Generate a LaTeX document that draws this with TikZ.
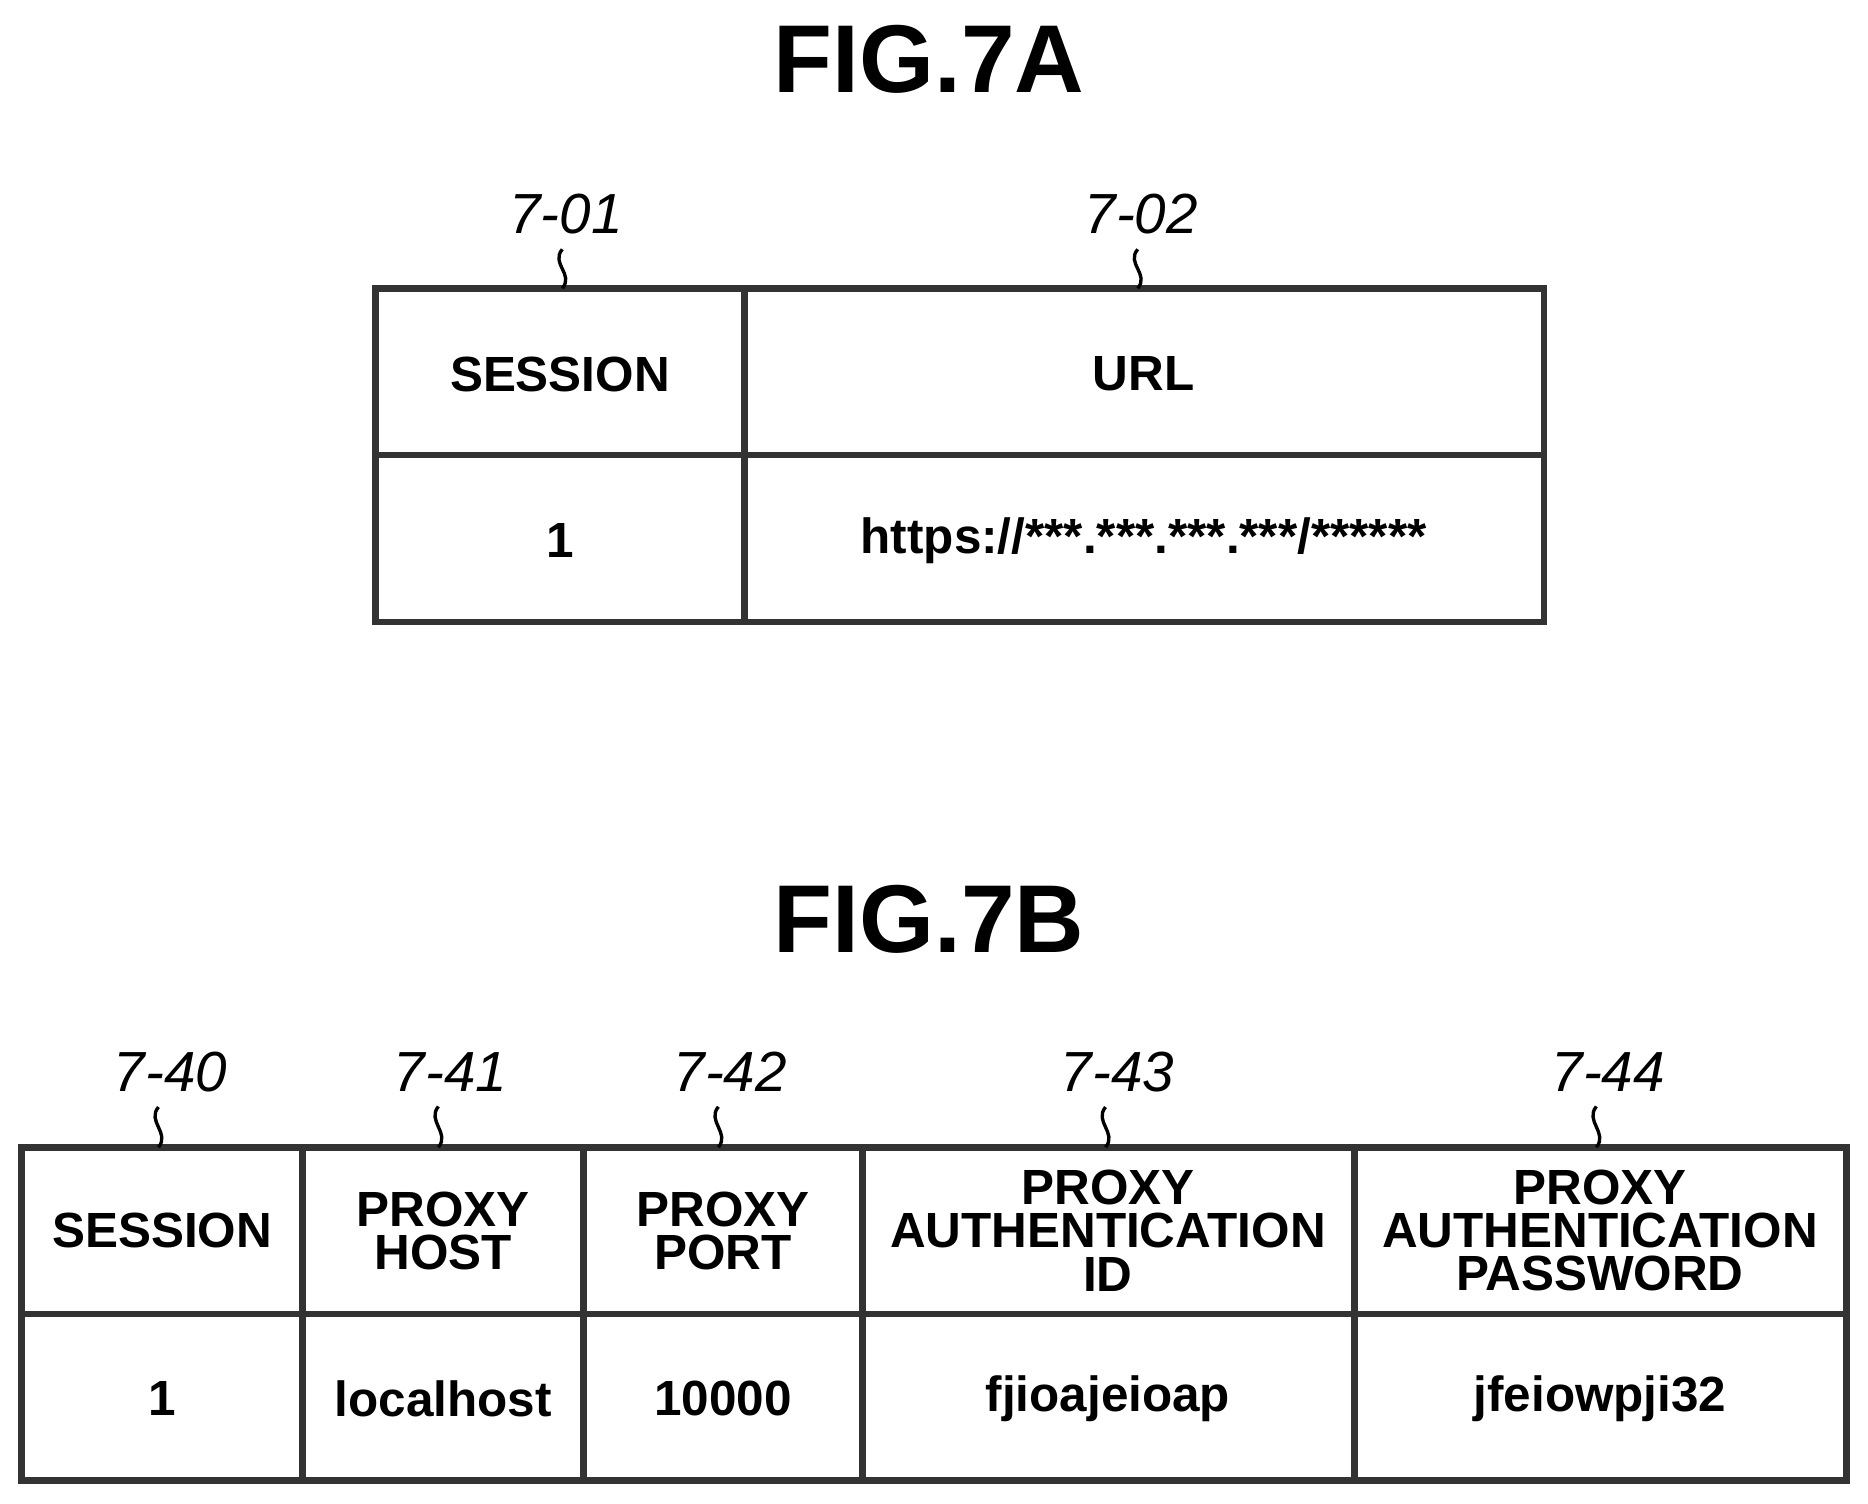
\documentclass[tikz,border=0pt]{standalone}
\usepackage{fontspec}
\setmainfont{Liberation Sans}
\usetikzlibrary{positioning}
\tikzset{
  cell/.style={font=\fontsize{11.8}{10.3}\selectfont\bfseries, align=center},
  reflabel/.style={font=\fontsize{13.5}{13.5}\selectfont\itshape},
  figtitle/.style={font=\fontsize{23}{23}\selectfont\bfseries},
  grid/.style={line width=1.6pt, draw=black!80},
  lead/.style={line width=0.8pt}
}
\begin{document}
\begin{tikzpicture}[x=0.01cm, y=-0.01cm]
        \useasboundingbox (0,0) rectangle (1568,1262);
        % Titles
        \node[figtitle] (figA) at (780,50) {FIG.7A};
        \node[figtitle] (figB) at (780,772) {FIG.7B};
        % Table A
        \draw[grid] (315,242) rectangle (1296,522);
        \draw[grid] (315,382) -- (1296,382);
        \draw[grid] (625,242) -- (625,522);
        \node[cell] (sa) at (470,314) {SESSION};
        \node[cell] (ua) at (960,314) {URL};
        \node[cell] (sa1) at (470,454) {1};
        \node[cell] (ua1) at (960,454) {https://***.***.***.***/******};
        % Reference labels A
        \foreach \x/\t [count=\i] in {472/7-01, 955/7-02} {
          \node[reflabel] (la\i) at (\x+3,180) {\t};
          \coordinate (ta\i) at (\x,242);
          \draw[lead] (la\i.south -| ta\i) .. controls +(-10,12) and +(10,-12) .. (ta\i);
        }
        % Table B
        \draw[grid] (18,963) rectangle (1550,1243);
        \draw[grid] (18,1103) -- (1550,1103);
        \foreach \x in {254,490,724,1137} \draw[grid] (\x,963) -- (\x,1243);
        \node[cell] (sb) at (136,1033) {SESSION};
        \node[cell] (hb) at (372,1033) {PROXY\\HOST};
        \node[cell] (pb) at (607,1033) {PROXY\\PORT};
        \node[cell] (ib) at (930,1033) {PROXY\\AUTHENTICATION\\ID};
        \node[cell] (wb) at (1343,1033) {PROXY\\AUTHENTICATION\\PASSWORD};
        \node[cell] (sb1) at (136,1174) {1};
        \node[cell] (hb1) at (372,1174) {localhost};
        \node[cell] (pb1) at (607,1174) {10000};
        \node[cell] (ib1) at (930,1174) {fjioajeioap};
        \node[cell] (wb1) at (1343,1174) {jfeiowpji32};
        % Reference labels B
        \foreach \x/\t [count=\i] in {133/7-40, 368/7-41, 603/7-42, 928/7-43, 1340/7-44} {
          \node[reflabel] (lb\i) at (\x+10,900) {\t};
          \coordinate (tb\i) at (\x,963);
          \draw[lead] (lb\i.south -| tb\i) .. controls +(-10,12) and +(10,-12) .. (tb\i);
        }
\end{tikzpicture}
\end{document}
